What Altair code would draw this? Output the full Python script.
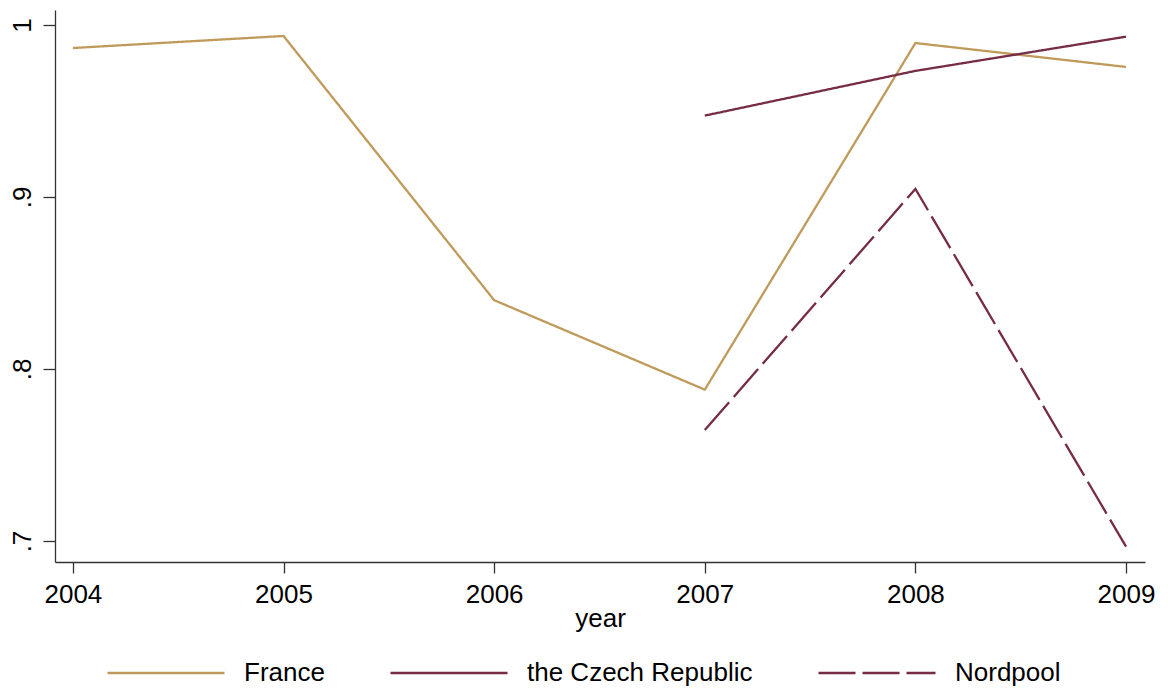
import altair as alt
import pandas as pd

years = [2004, 2005, 2006, 2007, 2008, 2009]
france = [0.9866, 0.9936, 0.840, 0.788, 0.9895, 0.9756]
czech_years = [2007, 2008, 2009]
czech = [0.9473, 0.9733, 0.9932]
nord_years = [2007, 2008, 2009]
nordpool = [0.7645, 0.9047, 0.6967]

series = ["France", "the Czech Republic", "Nordpool"]
colors = ["#BF9A5A", "#762B46", "#762B46"]
dashes = [[1, 0], [1, 0], [37, 7]]

rows = []
for y, v in zip(years, france):
    rows.append({"year": y, "value": v, "series": "France"})
for y, v in zip(czech_years, czech):
    rows.append({"year": y, "value": v, "series": "the Czech Republic"})
for y, v in zip(nord_years, nordpool):
    rows.append({"year": y, "value": v, "series": "Nordpool"})
df = pd.DataFrame(rows)

font = "Liberation Sans"
fs = 26

legend_kw = dict(title=None, orient="none", direction="horizontal",
                 legendX=51, legendY=603,
                 symbolType="stroke", symbolSize=13689, symbolStrokeWidth=2.3,
                 labelFontSize=fs, labelFont=font, labelColor="black", labelLimit=500,
                 columnPadding=60, labelOffset=18, padding=0)

chart = alt.Chart(df).mark_line(strokeWidth=2.3, strokeCap="butt").encode(
    x=alt.X("year:Q",
            scale=alt.Scale(domain=[2003.915, 2009.09], nice=False, zero=False),
            axis=alt.Axis(values=years, format="d", title="year", grid=False,
                          tickSize=11, labelPadding=8,
                          titleY=64, titleBaseline="alphabetic",
                          labelFontSize=fs, titleFontSize=fs, labelFont=font, titleFont=font,
                          titleFontWeight="normal", labelColor="black", titleColor="black",
                          domainColor="#333333", tickColor="#333333", domainWidth=1.3, tickWidth=1.3,
                          labelFlush=False)),
    y=alt.Y("value:Q",
            scale=alt.Scale(domain=[0.6878, 1.0087], nice=False, zero=False),
            axis=alt.Axis(values=[0.7, 0.8, 0.9, 1.0], title=None, grid=False,
                          labelExpr="datum.value >= 0.999 ? '1' : replace(format(datum.value, '.1f'), '0.', '.')",
                          labelAngle=270, tickSize=12, labelPadding=8,
                          labelFontSize=fs, labelFont=font, labelColor="black",
                          domainColor="#333333", tickColor="#333333", domainWidth=1.3, tickWidth=1.3)),
    color=alt.Color("series:N", scale=alt.Scale(domain=series, range=colors),
                    legend=alt.Legend(**legend_kw)),
    strokeDash=alt.StrokeDash("series:N", scale=alt.Scale(domain=series, range=dashes),
                              legend=alt.Legend(**legend_kw)),
    detail="series:N",
).properties(
    width=1090, height=552,
    autosize=alt.AutoSizeParams(type="none"),
    padding={"left": 47, "top": 2, "right": 15, "bottom": 125},
).configure(background="white").configure_view(stroke=None)

chart.save("out.html", embed_options={"renderer": "svg", "actions": False})
